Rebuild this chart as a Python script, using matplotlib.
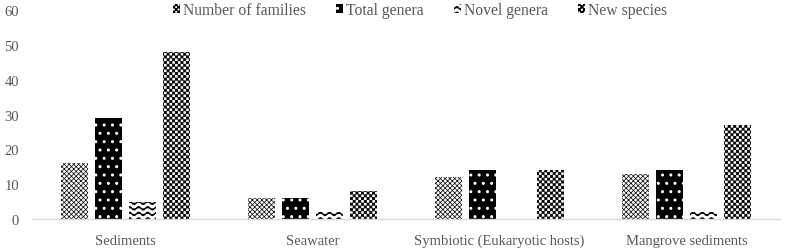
import numpy as np
import matplotlib
matplotlib.use("Agg")
import matplotlib.pyplot as plt
import matplotlib.hatch as mhatch
from matplotlib.path import Path
from matplotlib.patches import Patch
import warnings
warnings.filterwarnings("ignore")

categories = ["Sediments", "Seawater", "Symbiotic (Eukaryotic hosts)", "Mangrove sediments"]
series_names = ["Number of families", "Total genera", "Novel genera", "New species"]
families = [16, 6, 12, 13]
total_genera = [29, 6, 14, 14]
novel_genera = [5, 2, 0, 2]
new_species = [48, 8, 14, 27]
yticks = [0, 10, 20, 30, 40, 50, 60]


class CheckerHatch(mhatch.HatchPatternBase):
    def __init__(self, hatch, density):
        n = int(hatch.count('c') * density)
        if n % 2:
            n += 1
        self.n = n
        self.num_vertices = (n * n // 2) * 5 if n else 0

    def set_vertices_and_codes(self, vertices, codes):
        n = self.n
        s = 1.0 / n
        m = 0.12 * s
        k = 0
        for i in range(n):
            for j in range(n):
                if (i + j) % 2 == 0:
                    x0, y0 = j * s + m, i * s + m
                    x1, y1 = (j + 1) * s - m, (i + 1) * s - m
                    vertices[k:k + 5] = [[x0, y0], [x1, y0], [x1, y1], [x0, y1], [x0, y0]]
                    codes[k:k + 5] = [Path.MOVETO, Path.LINETO, Path.LINETO,
                                      Path.LINETO, Path.CLOSEPOLY]
                    k += 5


class WaveHatch(mhatch.HatchPatternBase):
    periods = 11
    pts = 8

    def __init__(self, hatch, density):
        self.rows = int(hatch.count('w') * density)
        self.npr = self.periods * self.pts + 1
        self.num_vertices = self.rows * self.npr if self.rows else 0

    def set_vertices_and_codes(self, vertices, codes):
        xs = np.linspace(0, 1, self.npr)
        amp = 0.016
        k = 0
        for r in range(self.rows):
            y0 = (r + 0.5) / self.rows
            ys = y0 + amp * np.sin(2 * np.pi * self.periods * xs)
            vertices[k:k + self.npr, 0] = xs
            vertices[k:k + self.npr, 1] = ys
            codes[k] = Path.MOVETO
            codes[k + 1:k + self.npr] = Path.LINETO
            k += self.npr


mhatch._hatch_types.append(CheckerHatch)
mhatch._hatch_types.append(WaveHatch)

plt.rcParams['font.family'] = ['Liberation Serif', 'DejaVu Serif']
plt.rcParams['hatch.linewidth'] = 1.0
text_color = '#595959'

fig = plt.figure(figsize=(7.88, 2.53), dpi=100)
ax = fig.add_axes([0.0406, 0.130, 0.9494, 0.8265])

x = np.arange(len(categories))
w = 0.145
step = 0.182
styles = [
    dict(facecolor='white', edgecolor='black', hatch='xxxxxxx'),
    dict(facecolor='black', edgecolor='white', hatch='..'),
    dict(facecolor='white', edgecolor='black', hatch='www'),
    dict(facecolor='white', edgecolor='black', hatch='cccccc'),
]
hatch_lws = [0.5, 1.0, 1.0, 0.6]
data = [families, total_genera, novel_genera, new_species]
handles = []
for i, (vals, st) in enumerate(zip(data, styles)):
    bars = ax.bar(x + (i - 1.5) * step, vals, width=w, linewidth=0, **st)
    h = Patch(linewidth=0, label=series_names[i], **st)
    for p in list(bars) + [h]:
        try:
            p.set_hatch_linewidth(hatch_lws[i])
        except Exception:
            pass
    handles.append(h)

ax.set_xlim(-0.5, len(categories) - 0.5)
ax.set_ylim(0, 60)
ax.set_yticks(yticks)
ax.set_xticks(x)
ax.set_xticklabels(categories)
ax.tick_params(axis='both', length=0, labelsize=10.5, colors=text_color)
ax.tick_params(axis='y', pad=9.4)
ax.tick_params(axis='x', pad=10.5)
for s in ['left', 'right', 'top']:
    ax.spines[s].set_visible(False)
ax.spines['bottom'].set_color('#d9d9d9')
ax.spines['bottom'].set_linewidth(1.0)

leg = ax.legend(handles=handles, loc='center', bbox_to_anchor=(0.519, 1.0), ncol=4,
                frameon=False, fontsize=11.3, handlelength=0.46, handleheight=0.46,
                handletextpad=0.2, columnspacing=1.9, borderaxespad=0)
for t in leg.get_texts():
    t.set_color(text_color)

fig.savefig('out.png', dpi=100)
